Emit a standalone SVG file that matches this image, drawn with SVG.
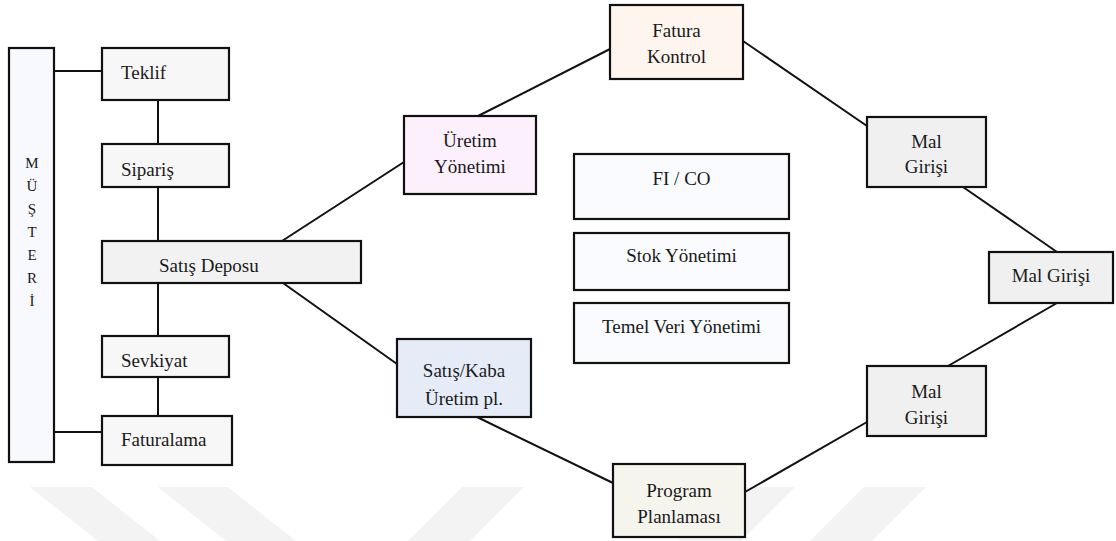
<svg xmlns="http://www.w3.org/2000/svg" width="1116" height="541" viewBox="0 0 1116 541">
  <style>
    .box { stroke: #111; stroke-width: 2.2; }
    .wire { stroke: #111; stroke-width: 2; fill: none; }
  </style>
  <rect width="1116" height="541" fill="#ffffff"/>

  <!-- faint background bands along the bottom edge -->
  <g id="bands" fill="#f3f3f3">
    <polygon points="30,487 92,487 160,541 98,541"/>
    <polygon points="158,487 228,487 296,541 226,541"/>
    <polygon points="462,487 524,487 470,541 408,541"/>
    <polygon points="732,487 795,487 741,541 678,541"/>
    <polygon points="864,487 926,487 872,541 810,541"/>
  </g>

  <!-- connectors -->
  <g id="connectors" class="wire">
    <line x1="54" y1="71" x2="102" y2="71"/>
    <line x1="158" y1="100" x2="158" y2="144"/>
    <line x1="158" y1="187" x2="158" y2="241"/>
    <line x1="158" y1="283" x2="158" y2="336"/>
    <line x1="158" y1="377" x2="158" y2="416"/>
    <line x1="54" y1="432" x2="102" y2="432"/>
    <line x1="282" y1="241" x2="404" y2="162"/>
    <line x1="478" y1="116" x2="610" y2="49"/>
    <line x1="743" y1="41" x2="867" y2="126"/>
    <line x1="963" y1="187" x2="1057" y2="252"/>
    <line x1="1057" y1="303" x2="948" y2="366"/>
    <line x1="867" y1="422" x2="745" y2="492"/>
    <line x1="613" y1="483" x2="477" y2="417"/>
    <line x1="397" y1="364" x2="283" y2="283"/>
  </g>

  <g id="musteri">
    <rect class="box" x="9" y="48" width="45" height="414" fill="#f8f9fe"/>
    <text font-family="Liberation Serif" font-size="15" fill="#1a1a1a" text-anchor="middle" x="32" y="168">M</text>
    <text font-family="Liberation Serif" font-size="15" fill="#1a1a1a" text-anchor="middle" x="32" y="191">&#220;</text>
    <text font-family="Liberation Serif" font-size="15" fill="#1a1a1a" text-anchor="middle" x="32" y="214">&#350;</text>
    <text font-family="Liberation Serif" font-size="15" fill="#1a1a1a" text-anchor="middle" x="32" y="237">T</text>
    <text font-family="Liberation Serif" font-size="15" fill="#1a1a1a" text-anchor="middle" x="32" y="260">E</text>
    <text font-family="Liberation Serif" font-size="15" fill="#1a1a1a" text-anchor="middle" x="32" y="283">R</text>
    <text font-family="Liberation Serif" font-size="15" fill="#1a1a1a" text-anchor="middle" x="32" y="306">&#304;</text>
  </g>

  <g id="teklif">
    <rect class="box" x="102" y="48" width="127" height="52" fill="#f7f7f7"/>
    <text font-family="Liberation Serif" font-size="19" fill="#1a1a1a" x="121" y="79">Teklif</text>
  </g>

  <g id="siparis">
    <rect class="box" x="102" y="144" width="127" height="43" fill="#f7f7f7"/>
    <text font-family="Liberation Serif" font-size="19" fill="#1a1a1a" x="121" y="176">Sipari&#351;</text>
  </g>

  <g id="satis-deposu">
    <rect class="box" x="102" y="241" width="259" height="42" fill="#f2f2f2"/>
    <text font-family="Liberation Serif" font-size="19" fill="#1a1a1a" x="159" y="272">Sat&#305;&#351; Deposu</text>
  </g>

  <g id="sevkiyat">
    <rect class="box" x="102" y="336" width="127" height="41" fill="#f7f7f7"/>
    <text font-family="Liberation Serif" font-size="19" fill="#1a1a1a" x="121" y="367">Sevkiyat</text>
  </g>

  <g id="faturalama">
    <rect class="box" x="102" y="416" width="130" height="49" fill="#f7f7f7"/>
    <text font-family="Liberation Serif" font-size="19" fill="#1a1a1a" x="121" y="446">Faturalama</text>
  </g>

  <g id="uretim-yonetimi">
    <rect class="box" x="404" y="116" width="132" height="78" fill="#fdf0fd"/>
    <text font-family="Liberation Serif" font-size="19" fill="#1a1a1a" text-anchor="middle" x="470" y="147">&#220;retim</text>
    <text font-family="Liberation Serif" font-size="19" fill="#1a1a1a" text-anchor="middle" x="470" y="173">Y&#246;netimi</text>
  </g>

  <g id="satis-kaba">
    <rect class="box" x="397" y="339" width="134" height="78" fill="#e6ecf7"/>
    <text font-family="Liberation Serif" font-size="19" fill="#1a1a1a" text-anchor="middle" x="464" y="377">Sat&#305;&#351;/Kaba</text>
    <text font-family="Liberation Serif" font-size="19" fill="#1a1a1a" text-anchor="middle" x="464" y="405">&#220;retim pl.</text>
  </g>

  <g id="fatura-kontrol">
    <rect class="box" x="610" y="5" width="133" height="74" fill="#fdf5ee"/>
    <text font-family="Liberation Serif" font-size="19" fill="#1a1a1a" text-anchor="middle" x="676.5" y="37">Fatura</text>
    <text font-family="Liberation Serif" font-size="19" fill="#1a1a1a" text-anchor="middle" x="676.5" y="63">Kontrol</text>
  </g>

  <g id="fi-co">
    <rect class="box" x="574" y="154" width="215" height="65" fill="#f9fbfe"/>
    <text font-family="Liberation Serif" font-size="19" fill="#1a1a1a" text-anchor="middle" x="681.5" y="185">FI / CO</text>
  </g>

  <g id="stok-yonetimi">
    <rect class="box" x="574" y="233" width="215" height="57" fill="#f9fbfe"/>
    <text font-family="Liberation Serif" font-size="19" fill="#1a1a1a" text-anchor="middle" x="681.5" y="262">Stok Y&#246;netimi</text>
  </g>

  <g id="temel-veri">
    <rect class="box" x="574" y="303" width="215" height="60" fill="#f9fbfe"/>
    <text font-family="Liberation Serif" font-size="19" fill="#1a1a1a" text-anchor="middle" x="681.5" y="333">Temel Veri Y&#246;netimi</text>
  </g>

  <g id="program-planlamasi">
    <rect class="box" x="613" y="464" width="132" height="73" fill="#f5f5ee"/>
    <text font-family="Liberation Serif" font-size="19" fill="#1a1a1a" text-anchor="middle" x="679" y="497">Program</text>
    <text font-family="Liberation Serif" font-size="19" fill="#1a1a1a" text-anchor="middle" x="679" y="523">Planlamas&#305;</text>
  </g>

  <g id="mal-girisi-1">
    <rect class="box" x="867" y="117" width="119" height="70" fill="#f0f0f0"/>
    <text font-family="Liberation Serif" font-size="19" fill="#1a1a1a" text-anchor="middle" x="926.5" y="148">Mal</text>
    <text font-family="Liberation Serif" font-size="19" fill="#1a1a1a" text-anchor="middle" x="926.5" y="173">Giri&#351;i</text>
  </g>

  <g id="mal-girisi-2">
    <rect class="box" x="989" y="252" width="124" height="51" fill="#f0f0f0"/>
    <text font-family="Liberation Serif" font-size="19" fill="#1a1a1a" text-anchor="middle" x="1051" y="282">Mal Giri&#351;i</text>
  </g>

  <g id="mal-girisi-3">
    <rect class="box" x="867" y="366" width="119" height="70" fill="#f0f0f0"/>
    <text font-family="Liberation Serif" font-size="19" fill="#1a1a1a" text-anchor="middle" x="926.5" y="398">Mal</text>
    <text font-family="Liberation Serif" font-size="19" fill="#1a1a1a" text-anchor="middle" x="926.5" y="424">Giri&#351;i</text>
  </g>
</svg>
